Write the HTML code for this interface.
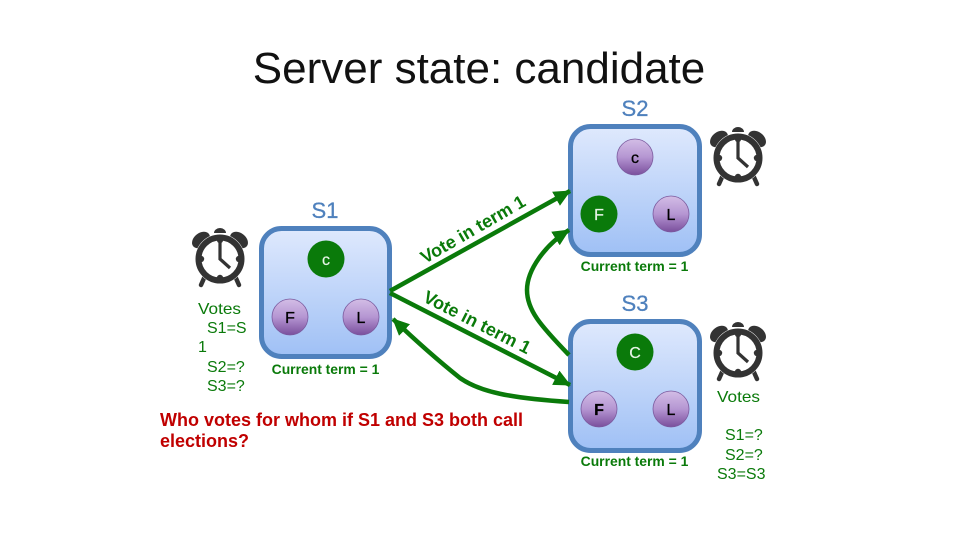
<!DOCTYPE html>
<html><head><meta charset="utf-8"><style>
html,body{margin:0;padding:0;background:#fff}
svg{display:block}
text{font-family:"Liberation Sans",sans-serif}
.g{fill:#0a7a0a}
.b{fill:#4f81bd;font-size:22px;stroke:#4f81bd;stroke-width:.3}
.t{fill:#0a7a0a;font-size:13.9px;font-weight:bold}
.v{fill:#0a7a0a;font-size:16px}
.a{fill:#0a7a0a;font-size:18px;font-weight:bold}
.r{fill:#c00000;font-size:18px;font-weight:bold}
.box{fill:url(#bg);stroke:#4f81bd;stroke-width:5}
.n{stroke:#7a5a9e;stroke-width:.8;fill:url(#pu)}
.l{font-size:16px;text-anchor:middle;fill:#000;stroke:#000;stroke-width:.3}
.w{font-size:16px;text-anchor:middle;fill:#e8f5e8;stroke:#e8f5e8;stroke-width:.2}
.c{fill:none;stroke:#0a7a0a;stroke-width:4.5}
</style></head><body>
<svg width="960" height="540" viewBox="0 0 960 540" xmlns="http://www.w3.org/2000/svg">
<defs>
<linearGradient id="bg" x1="0" y1="0" x2="0" y2="1"><stop offset="0" stop-color="#dfe9fd"/><stop offset="1" stop-color="#9fc0f5"/></linearGradient>
<linearGradient id="pu" x1="0" y1="0" x2="0" y2="1"><stop offset="0" stop-color="#d3bde6"/><stop offset=".5" stop-color="#b596d2"/><stop offset="1" stop-color="#7a4f9c"/></linearGradient>
<marker id="ah" markerUnits="userSpaceOnUse" markerWidth="18" markerHeight="16" refX="16" refY="8" orient="auto"><path d="M0 0L17 8L0 16z" fill="#0a7a0a"/></marker>
<g id="clock">
<ellipse cx="9" cy="12" rx="10" ry="7" transform="rotate(-38 9 12)" fill="#333"/>
<ellipse cx="47" cy="12" rx="10" ry="7" transform="rotate(38 47 12)" fill="#333"/>
<path d="M22 5a6 5 0 0 1 12 0z" fill="#333"/>
<path d="M13 48l-4 9M43 48l4 9" stroke="#333" stroke-width="4.5" stroke-linecap="round"/>
<circle cx="28" cy="31" r="25" fill="#fff"/>
<circle cx="28" cy="31" r="21.5" fill="#fff" stroke="#333" stroke-width="6"/>
<path d="M28 13v18l10 9" fill="none" stroke="#333" stroke-width="3.2"/>
<circle cx="28" cy="12" r="3.2" fill="#333"/><circle cx="28" cy="50" r="3.2" fill="#333"/><circle cx="9" cy="31" r="3.2" fill="#333"/><circle cx="47" cy="31" r="3.2" fill="#333"/>
</g>
</defs>
<text x="479" y="83" font-size="44" text-anchor="middle" fill="#111">Server state: candidate</text>

<text x="325" y="218" class="b" text-anchor="middle">S1</text>
<text x="635" y="116" class="b" text-anchor="middle">S2</text>
<text x="635" y="311" class="b" text-anchor="middle">S3</text>

<rect x="261.5" y="228.5" width="128" height="128" rx="20" class="box"/>
<rect x="570.5" y="126.5" width="129" height="128" rx="20" class="box"/>
<rect x="570.5" y="321.5" width="129" height="129" rx="20" class="box"/>

<circle cx="326" cy="259" r="18.5" class="g"/><text x="326" y="265" class="w">c</text>
<circle cx="290" cy="317" r="18" class="n"/><text x="290" y="323" class="l">F</text>
<circle cx="361" cy="317" r="18" class="n"/><text x="361" y="323" class="l">L</text>

<circle cx="635" cy="157" r="18" class="n"/><text x="635" y="163" class="l">c</text>
<circle cx="599" cy="214" r="18.5" class="g"/><text x="599" y="220" class="w">F</text>
<circle cx="671" cy="214" r="18" class="n"/><text x="671" y="220" class="l">L</text>

<circle cx="635" cy="352" r="18.5" class="g"/><text x="635" y="358" class="w">C</text>
<circle cx="599" cy="409" r="18" class="n"/><text x="599" y="415" class="l" font-weight="bold">F</text>
<circle cx="671" cy="409" r="18" class="n"/><text x="671" y="415" class="l">L</text>

<text x="325.5" y="374" class="t" text-anchor="middle">Current term = 1</text>
<text x="634.5" y="271" class="t" text-anchor="middle">Current term = 1</text>
<text x="634.5" y="466" class="t" text-anchor="middle">Current term = 1</text>

<use href="#clock" x="192" y="228"/>
<use href="#clock" x="710" y="127"/>
<use href="#clock" x="710" y="322"/>

<path class="c" d="M390 291L570 191" marker-end="url(#ah)"/>
<path class="c" d="M390 293L570 385" marker-end="url(#ah)"/>
<path class="c" d="M569 355C540 325 527 310 527 290C527 270 545 245 569 230" marker-end="url(#ah)"/>
<path class="c" d="M569 402C510 398 480 392 460 378C440 362 415 340 393 319" marker-end="url(#ah)"/>

<text class="a" transform="translate(425 264) rotate(-30)">Vote in term 1</text>
<text class="a" transform="translate(422 301) rotate(27)">Vote in term 1</text>

<text class="v" x="198" y="314" textLength="43" lengthAdjust="spacingAndGlyphs">Votes</text>
<text class="v" x="207" y="333">S1=S</text>
<text class="v" x="198" y="352">1</text>
<text class="v" x="207" y="372">S2=?</text>
<text class="v" x="207" y="391">S3=?</text>

<text class="v" x="717" y="402" textLength="43" lengthAdjust="spacingAndGlyphs">Votes</text>
<text class="v" x="725" y="440">S1=?</text>
<text class="v" x="725" y="460">S2=?</text>
<text class="v" x="717" y="479">S3=S3</text>

<text class="r" x="160" y="426">Who votes for whom if S1 and S3 both call</text>
<text class="r" x="160" y="447">elections?</text>
</svg>
</body></html>
